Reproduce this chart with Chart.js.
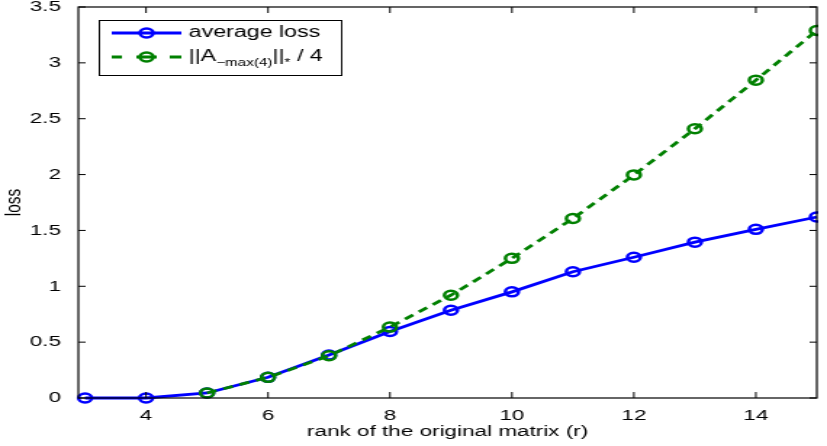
<!DOCTYPE html>
<html>
<head>
<meta charset="utf-8">
<script src="https://cdn.jsdelivr.net/npm/chart.js@4"></script>
<style>
  html, body { margin: 0; padding: 0; background: #fff; overflow: hidden; }
  #plot { display: block; }
</style>
</head>
<body>
<canvas id="plot" width="570" height="446" style="width:827px;height:446px"></canvas>
<script>
// rank r of the original matrix
const ranks = [3, 4, 5, 6, 7, 8, 9, 10, 11, 12, 13, 14, 15];
// measured average loss
const avgLoss = [0, 0, 0.045, 0.185, 0.385, 0.595, 0.785, 0.95, 1.13, 1.26, 1.395, 1.51, 1.62];
// nuclear-norm bound divided by 4 (undefined for r < 5)
const normBound = [null, null, 0.045, 0.185, 0.378, 0.635, 0.92, 1.25, 1.607, 1.997, 2.41, 2.845, 3.29];

const xTicks = [4, 6, 8, 10, 12, 14];
const yTicks = [0, 0.5, 1, 1.5, 2, 2.5, 3, 3.5];

const xTitle = 'rank of the original matrix (r)';
const yTitle = 'loss';
const legendAvg = [{ t: 'average loss' }];
const legendBound = [{ t: '||A' }, { t: '\u2212max(4)', sub: true }, { t: '||' }, { t: '*', sub: true }, { t: ' / 4' }];

const FONT = "'Liberation Sans', Arial, Helvetica, sans-serif";
const BLUE = '#0000ff';
const GREEN = '#008000';

function pairs(ys) {
  return ranks.map((r, i) => ({ x: r, y: ys[i] }));
}

// Boxed axes with inward tick marks and an in-plot legend
const framePlugin = {
  id: 'frame',
  afterDraw(chart) {
    const { ctx, chartArea: a, scales: { x, y } } = chart;
    ctx.save();
    ctx.strokeStyle = '#000';
    ctx.lineWidth = 1.2;
    ctx.strokeRect(a.left, a.top, a.right - a.left, a.bottom - a.top);

    ctx.lineWidth = 1;
    ctx.beginPath();
    for (const v of xTicks) {
      const px = x.getPixelForValue(v);
      ctx.moveTo(px, a.bottom); ctx.lineTo(px, a.bottom - 6);
      ctx.moveTo(px, a.top); ctx.lineTo(px, a.top + 6);
    }
    for (const v of yTicks) {
      const py = y.getPixelForValue(v);
      ctx.moveTo(a.left, py); ctx.lineTo(a.left + 5, py);
      ctx.moveTo(a.right, py); ctx.lineTo(a.right - 5, py);
    }
    ctx.stroke();

    // legend box
    const bx = 68, by = 20, bw = 167, bh = 55;
    ctx.fillStyle = '#fff';
    ctx.fillRect(bx, by, bw, bh);
    ctx.strokeStyle = '#000';
    ctx.lineWidth = 1;
    ctx.strokeRect(bx + 0.5, by + 0.5, bw, bh);

    const entries = [
      { color: BLUE, dashed: false, parts: legendAvg, y: 33 },
      { color: GREEN, dashed: true, parts: legendBound, y: 57 }
    ];
    for (const e of entries) {
      ctx.strokeStyle = e.color;
      ctx.lineWidth = 2.8;
      ctx.setLineDash([]);
      ctx.beginPath();
      if (e.dashed) {
        ctx.moveTo(77, e.y); ctx.lineTo(84, e.y);
        ctx.moveTo(94, e.y); ctx.lineTo(108, e.y);
        ctx.moveTo(117, e.y); ctx.lineTo(125, e.y);
      } else {
        ctx.moveTo(77, e.y); ctx.lineTo(125, e.y);
      }
      ctx.stroke();
      ctx.lineWidth = 2.5;
      ctx.beginPath();
      ctx.arc(101, e.y, 4.5, 0, Math.PI * 2);
      ctx.stroke();

      let tx = 130;
      ctx.fillStyle = '#000';
      ctx.textBaseline = 'middle';
      ctx.textAlign = 'left';
      for (const p of e.parts) {
        ctx.font = (p.sub ? '10.5px ' : '16px ') + FONT;
        ctx.fillText(p.t, tx, e.y + (p.sub ? 6 : 0));
        tx += ctx.measureText(p.t).width;
      }
    }
    ctx.restore();
  }
};

const seriesStyle = {
  borderWidth: 2.8,
  pointRadius: 4.5,
  pointHoverRadius: 4.5,
  pointBorderWidth: 2.5,
  pointStyle: 'circle',
  pointBackgroundColor: 'rgba(0,0,0,0)',
  tension: 0,
  fill: false,
  clip: { left: false, top: false, right: 1, bottom: false }
};

new Chart(document.getElementById('plot'), {
  type: 'line',
  data: {
    datasets: [
      Object.assign({
        label: 'average loss',
        data: pairs(avgLoss),
        borderColor: BLUE,
        pointBorderColor: BLUE,
        order: 1
      }, seriesStyle),
      Object.assign({
        label: '||A_{-max(4)}||_* / 4',
        data: pairs(normBound),
        borderColor: GREEN,
        pointBorderColor: GREEN,
        borderDash: [7, 5],
        order: 0
      }, seriesStyle)
    ]
  },
  options: {
    responsive: false,
    devicePixelRatio: 1,
    animation: false,
    events: [],
    layout: { padding: { top: 7, right: 2, left: 0, bottom: 0 } },
    plugins: { legend: { display: false }, tooltip: { enabled: false } },
    scales: {
      x: {
        type: 'linear',
        min: 2.89,
        max: 15,
        grid: { display: false },
        border: { display: false },
        afterBuildTicks(s) { s.ticks = xTicks.map(v => ({ value: v })); },
        afterFit(s) { s.height = 48; s.paddingLeft = 0; s.paddingRight = 0; },
        ticks: { color: '#000', padding: 0, maxRotation: 0, font: { family: FONT, size: 15.5 } },
        title: { display: true, text: xTitle, color: '#000', padding: { top: 0, bottom: 5 }, font: { family: FONT, size: 15.5 } }
      },
      y: {
        type: 'linear',
        min: 0,
        max: 3.5,
        grid: { display: false },
        border: { display: false },
        afterBuildTicks(s) { s.ticks = yTicks.map(v => ({ value: v })); },
        afterFit(s) { s.width = 54; s.paddingTop = 0; s.paddingBottom = 0; },
        ticks: { color: '#000', padding: 4, font: { family: FONT, size: 15.5 }, callback: v => String(v) },
        title: { display: true, text: yTitle, color: '#000', padding: { top: 0, bottom: 0 }, font: { family: FONT, size: 15.5 } }
      }
    }
  },
  plugins: [framePlugin]
});
</script>
</body>
</html>
